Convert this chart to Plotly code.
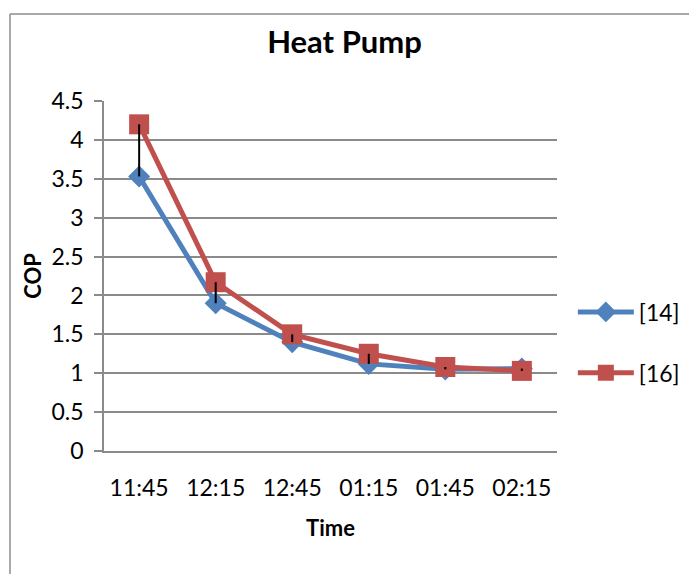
import plotly.graph_objects as go

categories = ["11:45", "12:15", "12:45", "01:15", "01:45", "02:15"]
cop_14 = [3.53, 1.90, 1.40, 1.12, 1.05, 1.06]
cop_16 = [4.20, 2.17, 1.50, 1.25, 1.08, 1.03]
y_ticks = [0, 0.5, 1, 1.5, 2, 2.5, 3, 3.5, 4, 4.5]
y_tick_text = ["0", "0.5", "1", "1.5", "2", "2.5", "3", "3.5", "4", "4.5"]

FONT = "Lato"
GRID = "#8a8a8a"
BLUE = "#4F81BD"
RED = "#C0504D"

fig = go.Figure()
fig.add_trace(go.Scatter(
    x=categories, y=cop_14, name="[14]", mode="lines+markers",
    line=dict(color=BLUE, width=5),
    marker=dict(symbol="diamond", size=17, color=BLUE),
    legendgroup="a",
))
fig.add_trace(go.Scatter(
    x=categories, y=cop_16, name="[16]", mode="lines+markers",
    line=dict(color=RED, width=5),
    marker=dict(symbol="square", size=20, color=RED),
    legendgroup="b",
))

# high-low lines between the two series
hl_x, hl_y = [], []
for c, a, b in zip(categories, cop_14, cop_16):
    hl_x += [c, c, None]
    hl_y += [a, b, None]
fig.add_trace(go.Scatter(
    x=hl_x, y=hl_y, mode="lines", line=dict(color="black", width=2),
    showlegend=False, hoverinfo="skip",
))

# outer chart border (left and top)
fig.add_shape(type="line", xref="paper", yref="paper",
              x0=-0.2075, x1=-0.2075, y0=-0.36, y1=1.2486,
              line=dict(color="#8c8c8c", width=1.5))
fig.add_shape(type="line", xref="paper", yref="paper",
              x0=-0.2075, x1=1.3, y0=1.2486, y1=1.2486,
              line=dict(color="#8c8c8c", width=1.5))

fig.update_layout(
    width=689, height=574,
    margin=dict(l=104, r=132, t=101, b=123, autoexpand=False),
    paper_bgcolor="white", plot_bgcolor="white",
    font=dict(family=FONT, color="black", size=23),
    title=dict(text="<b>Heat Pump</b>", x=0.5, xanchor="center",
               y=1 - 42 / 574, yanchor="middle",
               font=dict(size=31, family=FONT, color="black")),
    legend=dict(x=1.035, xanchor="left", y=0.31, yanchor="middle",
                font=dict(size=23, family=FONT), itemwidth=56,
                tracegroupgap=28, bgcolor="rgba(0,0,0,0)"),
    showlegend=True,
)
fig.update_xaxes(
    type="category", categoryorder="array", categoryarray=categories,
    showgrid=False, showline=True, linecolor=GRID, linewidth=1.5,
    ticks="", ticklabelstandoff=16, tickfont=dict(size=23),
    title=dict(text="<b>Time</b>", font=dict(size=22), standoff=20),
)
fig.update_yaxes(
    range=[0, 4.5], tickvals=y_ticks, ticktext=y_tick_text,
    showgrid=True, gridcolor=GRID, gridwidth=1.5,
    showline=True, linecolor=GRID, linewidth=1.5,
    ticks="outside", ticklen=8, tickcolor=GRID, tickwidth=1.5,
    ticklabelstandoff=6, tickfont=dict(size=23), zeroline=False,
    title=dict(text="<b>COP</b>", font=dict(size=22), standoff=4),
)

fig.write_html("out.html")
